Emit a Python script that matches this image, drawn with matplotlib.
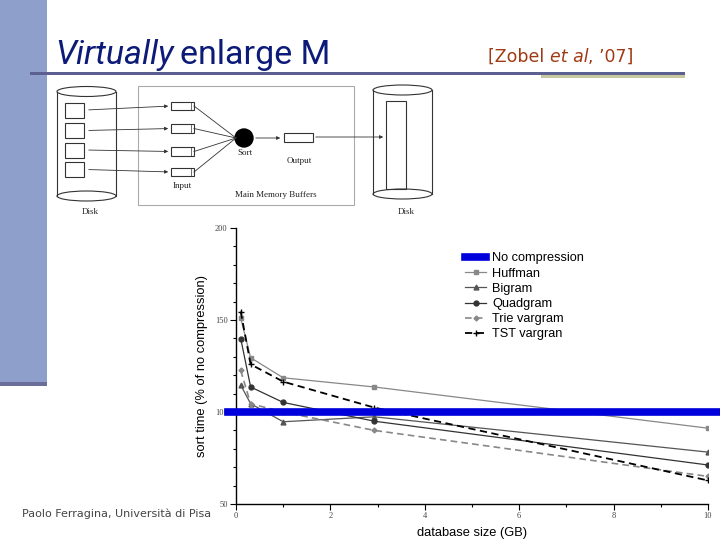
import matplotlib
matplotlib.use("Agg")
import matplotlib.pyplot as plt
from matplotlib.patches import Rectangle, Ellipse, Circle
from matplotlib.ticker import MultipleLocator

# ---------------- data ----------------
db_size = [0.1, 0.31, 1.0, 2.93, 10.0]
huffman = [151, 129.5, 118.6, 113.6, 91.2]
bigram = [114.6, 104.5, 94.7, 97.4, 78.2]
quadgram = [139.9, 113.6, 105.2, 95.0, 71.2]
trie_vargram = [122.6, 104.5, 100.0, 90.0, 65.0]
tst_vargran = [154.6, 125.9, 116.5, 102.4, 62.8]
no_compression = 100
series_names = ["No compression", "Huffman", "Bigram", "Quadgram", "Trie vargram", "TST vargran"]
x_ticks = [0, 2, 4, 6, 8, 10]
y_ticks = [50, 100, 150, 200]

W, H = 720, 540
fig = plt.figure(figsize=(7.2, 5.4), dpi=100)

# ---------- slide background (pixel coordinates) ----------
bg = fig.add_axes([0, 0, 1, 1])
bg.set_xlim(0, W)
bg.set_ylim(H, 0)
bg.axis("off")

bg.add_patch(Rectangle((0, 0), 47, 382, color="#8f9fcc", lw=0))
bg.add_patch(Rectangle((0, 382), 47, 4, color="#6a6e98", lw=0))
bg.add_patch(Rectangle((30, 72), 655, 2.6, color="#5c6090", lw=0))
bg.add_patch(Rectangle((541, 74.6), 144, 3, color="#c8c8a0", lw=0))

r = fig.canvas.get_renderer()

def run_text(x, y, parts, **kw):
    for txt, style, gap in parts:
        t = bg.text(x, y, txt, style=style, va="baseline", ha="left", **kw)
        fig.canvas.draw()
        bb = t.get_window_extent(r)
        x = bb.x1 + gap

# title
run_text(55, 64, [("Virtually", "italic", 6), ("enlarge M", "normal", 0)],
         fontsize=24.5, color="#0c1a78", family="Roboto")
# citation
run_text(488, 62, [("[Zobel ", "normal", 0), ("et al", "italic", 0), (", \u201907]", "normal", 0)],
         fontsize=12.5, color="#a03a14", family="DejaVu Sans")

# footer
bg.text(22, 517, "Paolo Ferragina, Universit\u00e0 di Pisa", fontsize=8, color="#444444",
        family="DejaVu Sans", va="baseline", ha="left")

# ---------- diagram ----------
lc = "#333333"
def cylinder(x0, x1, ytop, ybot):
    w = x1 - x0
    bg.add_patch(Ellipse(((x0 + x1) / 2, ytop), w, 10, fill=False, ec=lc, lw=0.8))
    bg.add_patch(Ellipse(((x0 + x1) / 2, ybot), w, 10, fill=False, ec=lc, lw=0.8))
    bg.plot([x0, x0], [ytop, ybot], color=lc, lw=0.8)
    bg.plot([x1, x1], [ytop, ybot], color=lc, lw=0.8)

cylinder(57, 116, 91.5, 196)
cylinder(373, 432, 90, 194)
bg.add_patch(Rectangle((138, 86), 216, 119, fill=False, ec="#aaaaaa", lw=0.8))

disk_y = [110, 130.5, 150, 169.5]
buf_y = [106, 128.5, 151.5, 172]
for dy, by in zip(disk_y, buf_y):
    bg.add_patch(Rectangle((65, dy - 7.5), 19, 15, fill=False, ec=lc, lw=0.8))
    bg.annotate("", xy=(171, by), xytext=(86, dy),
                arrowprops=dict(arrowstyle="-|>", color=lc, lw=0.6, mutation_scale=5))
    bg.add_patch(Rectangle((171, by - 4.2), 23, 8.4, fill=False, ec=lc, lw=0.8))
    bg.plot([190.5, 190.5], [by - 4.2, by + 4.2], color=lc, lw=0.5)
    bg.plot([194, 236], [by, 138], color=lc, lw=0.6)
bg.add_patch(Circle((244, 138), 9, color="black"))
bg.annotate("", xy=(283, 138), xytext=(253, 138),
            arrowprops=dict(arrowstyle="-|>", color=lc, lw=0.6, mutation_scale=5))
bg.add_patch(Rectangle((284, 132.5), 29, 9.5, fill=False, ec=lc, lw=0.8))
bg.annotate("", xy=(386, 137), xytext=(313, 137),
            arrowprops=dict(arrowstyle="-|>", color=lc, lw=0.6, mutation_scale=5))
bg.add_patch(Rectangle((386, 101), 20, 88, fill=False, ec=lc, lw=0.8))

dfont = dict(family="Liberation Serif", fontsize=6.5, color="#222222", ha="center", va="center")
bg.text(245, 153, "Sort", **dfont)
bg.text(299, 161, "Output", **dfont)
bg.text(182, 186, "Input", **dfont)
bg.text(276, 195, "Main Memory Buffers", **dfont)
bg.text(90, 212, "Disk", **dfont)
bg.text(406, 212, "Disk", **dfont)

# ---------- chart ----------
ax = fig.add_axes([236 / W, 1 - 504 / H, (708 - 236) / W, (504 - 228) / H])
ax.set_xlim(0, 10)
ax.set_ylim(50, 200)
ax.patch.set_alpha(0)
for s in ["top", "right"]:
    ax.spines[s].set_visible(False)
for s in ["left", "bottom"]:
    ax.spines[s].set_linewidth(1.0)

ax.axhline(no_compression, xmin=-0.016, xmax=1.03, color="#0000dd", lw=5.5,
           clip_on=False, label=series_names[0], zorder=5)
ax.plot(db_size, huffman, color="#888888", lw=0.9, marker="s", ms=3.5, label=series_names[1])
ax.plot(db_size, bigram, color="#555555", lw=0.9, marker="^", ms=3.5, label=series_names[2])
ax.plot(db_size, quadgram, color="#333333", lw=0.9, marker="o", ms=3.5, label=series_names[3])
ax.plot(db_size, trie_vargram, color="#888888", lw=1.2, ls=(0, (4, 2.5)), marker="D", ms=2.5,
        label=series_names[4])
ax.plot(db_size, tst_vargran, color="black", lw=1.3, ls=(0, (4, 2.5)), marker="+", ms=5,
        label=series_names[5])

ax.set_xticks(x_ticks)
ax.set_yticks(y_ticks)
ax.xaxis.set_minor_locator(MultipleLocator(1))
ax.yaxis.set_minor_locator(MultipleLocator(10))
ax.tick_params(which="major", direction="out", length=4, width=0.8, labelsize=6,
               labelcolor="#444444", pad=2)
ax.tick_params(which="minor", direction="out", length=2.5, width=0.8)
for lab in ax.get_xticklabels() + ax.get_yticklabels():
    lab.set_family("Liberation Serif")

ax.set_xlabel("database size (GB)", family="Liberation Sans", fontsize=9.3, labelpad=4.5)
ax.set_ylabel("sort time (% of no compression)", family="Liberation Sans", fontsize=9.3,
              labelpad=5)

leg = ax.legend(loc="upper left", bbox_to_anchor=((459 - 236) / 472, (504 - 246) / 276),
                frameon=False, prop=dict(family="Liberation Sans", size=9.2),
                handlelength=1.6, handletextpad=0.5, labelspacing=0.25, borderpad=0)

fig.savefig("out.png", dpi=100)
